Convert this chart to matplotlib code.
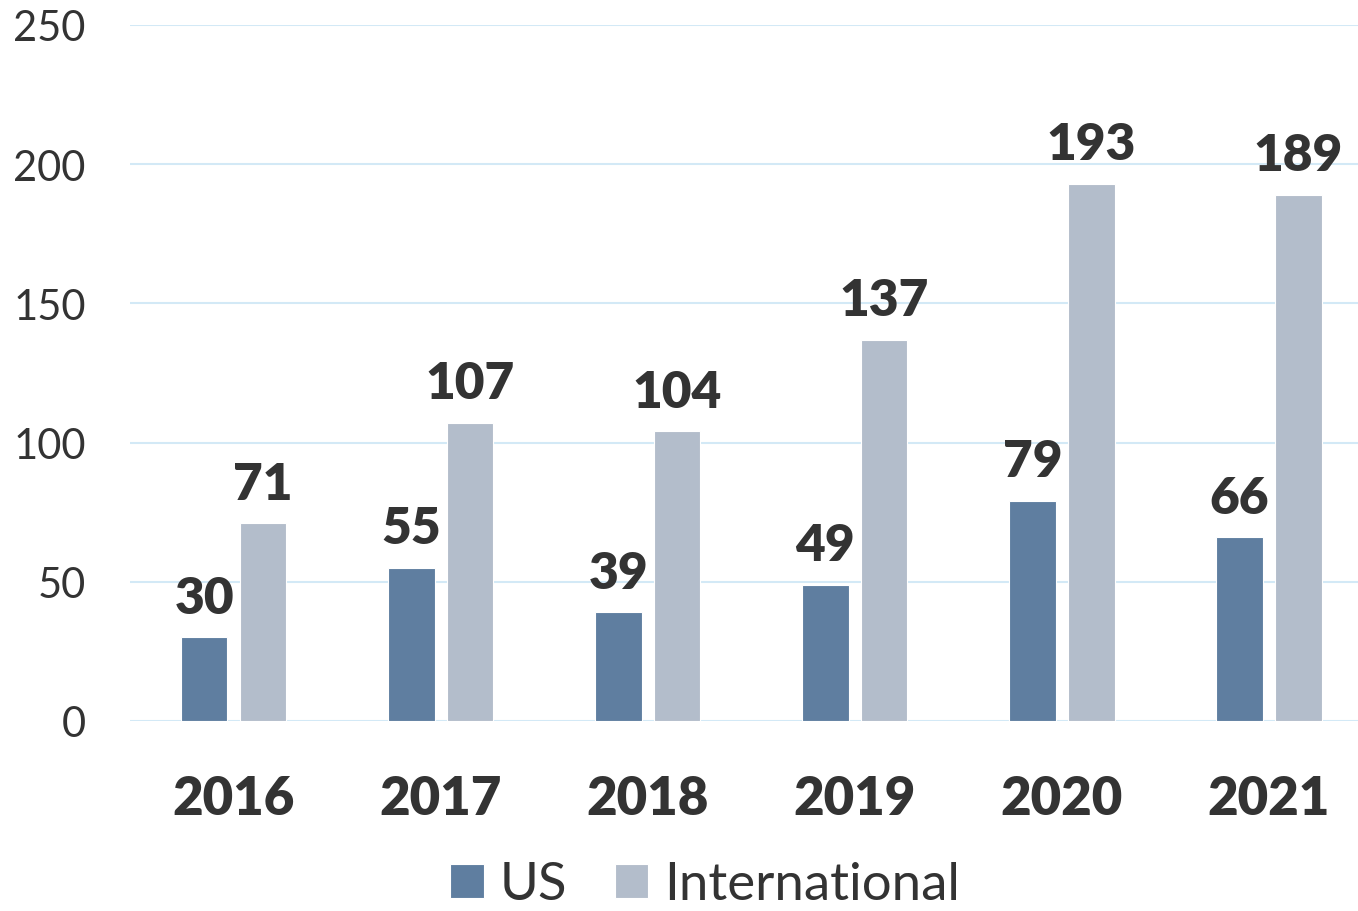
import matplotlib.pyplot as plt
import numpy as np

years = ["2016", "2017", "2018", "2019", "2020", "2021"]
us = [30, 55, 39, 49, 79, 66]
intl = [71, 107, 104, 137, 193, 189]

plt.rcParams['font.family'] = ['Lato', 'DejaVu Sans']

def plot():
    colors = ["#5f7ea0", "#b3bdcb"]
    fig = plt.figure(figsize=(13.58, 9.12), dpi=100)
    ax = fig.add_axes([130/1358, 1-722/912, 1228/1358, 696/912])
    x = np.arange(len(years))
    w = 0.225
    b1 = ax.bar(x - 0.142, us, w, color=colors[0], edgecolor='white', linewidth=0.8, label='US', zorder=3)
    b2 = ax.bar(x + 0.142, intl, w, color=colors[1], edgecolor='white', linewidth=0.8, label='International', zorder=3)
    for bars in (b1, b2):
        for r in bars:
            ax.annotate(f"{int(r.get_height())}", (r.get_x() + r.get_width()/2, r.get_height()),
                        xytext=(0, 12), textcoords='offset points', ha='center', va='bottom',
                        fontsize=37, fontweight='heavy', color='#333333')
    ax.set_xlim(-0.5, 5.43)
    ax.set_ylim(0, 250)
    ax.set_yticks(range(0, 251, 50))
    ax.yaxis.grid(True, color='#d3e9f6', linewidth=1.5, zorder=0)
    ax.set_xticks(x)
    ax.set_xticklabels(years, fontsize=38, fontweight='heavy', color='#333333')
    ax.tick_params(axis='y', labelsize=30, labelcolor='#333333', length=0, pad=32)
    ax.tick_params(axis='x', length=0, pad=38)
    for s in ax.spines.values():
        s.set_visible(False)
    fig.legend(loc='center', bbox_to_anchor=(705/1358, 1-886/912), ncol=2, frameon=False,
               fontsize=38, handlelength=0.64, handleheight=0.64, handletextpad=0.3,
               columnspacing=0.9, borderpad=0.1, labelcolor='#333333')
    fig.savefig("out.png", dpi=100)

if __name__ == '__main__':
    plot()
